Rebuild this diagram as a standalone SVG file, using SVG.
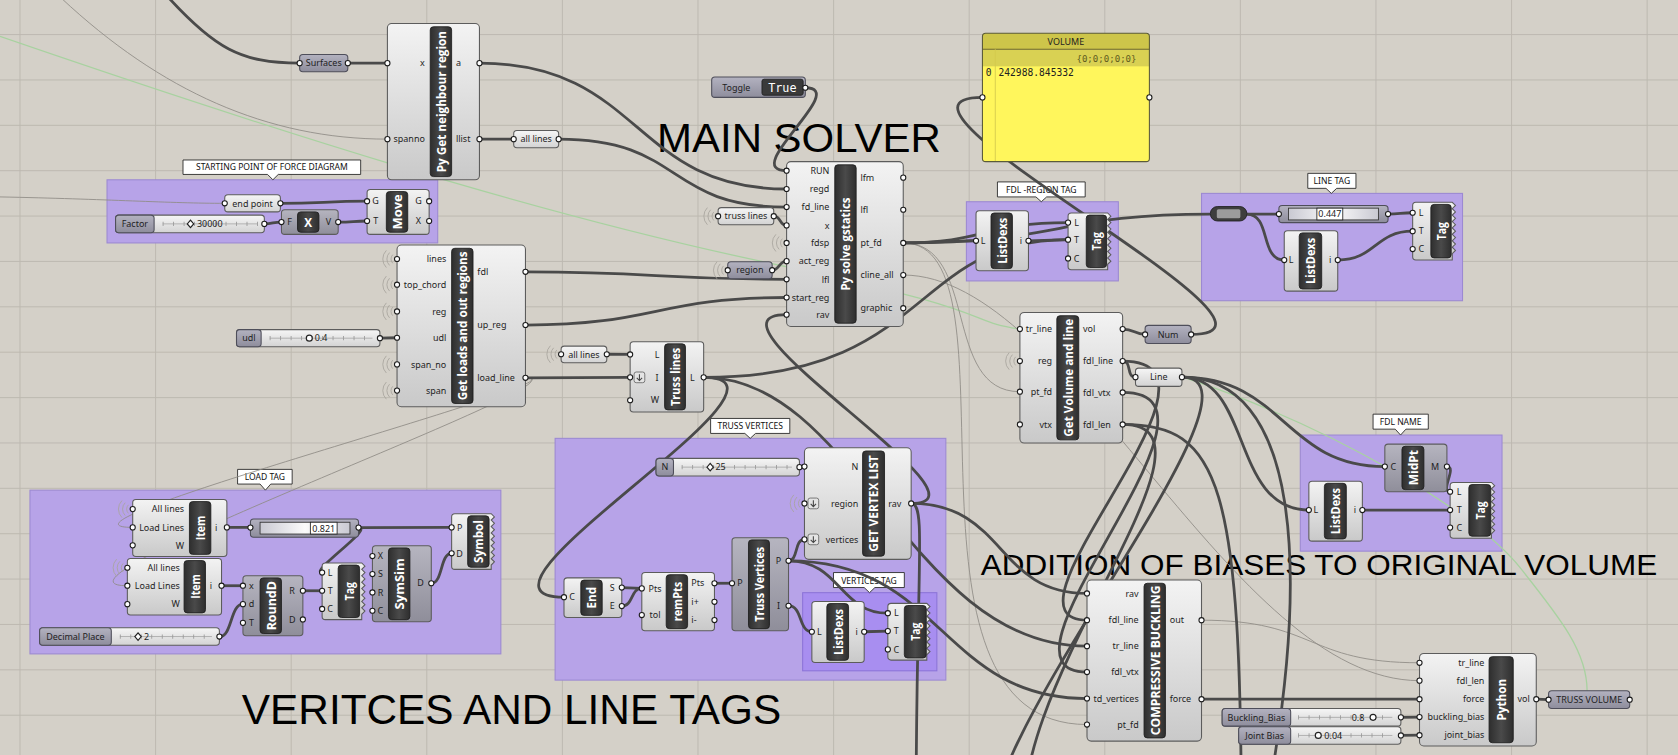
<svg xmlns="http://www.w3.org/2000/svg" width="1678" height="755" viewBox="0 0 1678 755">
<defs>
<linearGradient id="gc" x1="0" y1="0" x2="0" y2="1"><stop offset="0" stop-color="#f3f3f3"/><stop offset="1" stop-color="#c9c9c9"/></linearGradient>
<linearGradient id="gd" x1="0" y1="0" x2="0" y2="1"><stop offset="0" stop-color="#b6b5c0"/><stop offset="1" stop-color="#8f8e9a"/></linearGradient>
<linearGradient id="gp" x1="0" y1="0" x2="0" y2="1"><stop offset="0" stop-color="#b3b2c0"/><stop offset="1" stop-color="#8e8d9c"/></linearGradient>
<linearGradient id="gl" x1="0" y1="0" x2="0" y2="1"><stop offset="0" stop-color="#f6f6f6"/><stop offset="1" stop-color="#d3d3d3"/></linearGradient>
<linearGradient id="gb" x1="0" y1="0" x2="1" y2="0"><stop offset="0" stop-color="#2e2e2e"/><stop offset="0.5" stop-color="#4a4a4a"/><stop offset="1" stop-color="#2e2e2e"/></linearGradient>
<linearGradient id="gt" x1="0" y1="0" x2="1" y2="0"><stop offset="0" stop-color="#c9c9d2"/><stop offset="0.5" stop-color="#fbfbfb"/><stop offset="1" stop-color="#c9c9d2"/></linearGradient>
<g id="wl"><path class="wl" d="M-4 -4a5.7 5.7 0 0 0 0 8M-7 -6a8.5 8.5 0 0 0 0 12M-10 -8a11.3 11.3 0 0 0 0 16"/></g>
<g id="fl"><rect x="-5" y="-5" width="10" height="10" rx="2" fill="#e4e4e4" stroke="#666" stroke-width="0.8"/><path d="M0 -3V3M-2.5 0.5L0 3 2.5 0.5" fill="none" stroke="#444" stroke-width="1"/></g>
</defs>
<style>
.gr{stroke:#bcb8b0;stroke-width:0.9;fill:none}
.grp{fill:#b7a3e8;stroke:#9c89d2;stroke-width:1}
.grp2{fill:#a88ef0;stroke:#8c74d8;stroke-width:1}
.co{fill:#fff;stroke:#222;stroke-width:0.8}
.cot{font-family:"Noto Sans","DejaVu Sans",sans-serif;font-size:8px;fill:#111;text-anchor:middle}
.w{fill:none;stroke:#4a4a4a;stroke-width:2.6}
.t{fill:none;stroke:#8f8b85;stroke-width:0.8}
.g{fill:none;stroke:#a8d2a0;stroke-width:1.2}
.cb{fill:url(#gc);stroke:#5c5c5c;stroke-width:1}
.cd{fill:url(#gd);stroke:#5c5c5c;stroke-width:1}
.pd{fill:url(#gp);stroke:#4e4e5a;stroke-width:1}
.pl{fill:url(#gl);stroke:#5c5c5c;stroke-width:1}
.bar{fill:url(#gb);stroke:#1e1e1e;stroke-width:0.8}
.pt{fill:#fff;stroke:#1a1a1a;stroke-width:1}
.lb{font-family:"Noto Sans","DejaVu Sans",sans-serif;font-size:8.4px;fill:#1e1e1e}
.lr{text-anchor:end}
.lc{text-anchor:middle}
.vt{font-family:"Open Sans","Noto Sans",sans-serif;font-weight:bold;font-size:11px;fill:#fff;text-anchor:middle;dominant-baseline:central}
.hd{font-family:"Liberation Sans",Arial,sans-serif;fill:#000}
.wl{fill:none;stroke:#a9a59e;stroke-width:0.8}
.trk{stroke:#9a9a9a;stroke-width:4;stroke-dasharray:0.8 9}
.trl{stroke:#a0a0a0;stroke-width:0.7}
.mk{fill:#fff;stroke:#222;stroke-width:1.1}
.mono{font-family:"DejaVu Sans Mono","Liberation Mono",monospace}
.vb{fill:#fff;stroke:#222;stroke-width:0.8}
</style>
<rect width="1678" height="755" fill="#d4d0c8"/>
<g transform="scale(1.0702)">
<path class="gr" d="M18.7 0V706M145.4 0V706M272.1 0V706M398.8 0V706M525.5 0V706M652.2 0V706M778.9 0V706M905.6 0V706M1032.3 0V706M1159 0V706M1285.7 0V706M1412.4 0V706M1539.1 0V706M0 32.3H1568M0 74.7H1568M0 117.1H1568M0 159.5H1568M0 201.9H1568M0 244.3H1568M0 286.7H1568M0 329.1H1568M0 371.5H1568M0 413.9H1568M0 456.3H1568M0 498.7H1568M0 541.1H1568M0 583.5H1568M0 625.9H1568M0 668.3H1568M0 710.7H1568"/>

<g id="group-starting-point">
<rect class="grp" x="100" y="168" width="309" height="59"/>
<path class="co" d="M171 149.5H337V163H260L255 168 250 163H171Z"/>
<text class="cot" x="254" y="159.3">STARTING POINT OF FORCE DIAGRAM</text>
</g>
<g id="group-fdl-region-tag">
<rect class="grp" x="903" y="188.5" width="142" height="74"/>
<path class="co" d="M932 170H1014V184H978L973 188.5 968 184H932Z"/>
<text class="cot" x="973" y="180.3">FDL -REGION TAG</text>
</g>
<g id="group-line-tag">
<rect class="grp" x="1122.7" y="180.7" width="243.9" height="100.3"/>
<path class="co" d="M1222 162H1267V176H1249L1244 180.7 1239 176H1222Z"/>
<text class="cot" x="1244.5" y="172.3">LINE TAG</text>
</g>
<g id="group-fdl-name">
<rect class="grp" x="1215" y="406.5" width="188.5" height="108.5"/>
<path class="co" d="M1283 387H1334.6V401H1313.7L1308.7 406.5 1303.7 401H1283Z"/>
<text class="cot" x="1308.8" y="397.3">FDL NAME</text>
</g>
<g id="group-load-tag">
<rect class="grp" x="28" y="458" width="440" height="153"/>
<path class="co" d="M222 438.6H273V452.3H253L248 458 243 452.3H222Z"/>
<text class="cot" x="247.5" y="448.6">LOAD TAG</text>
</g>
<g id="group-truss-vertices">
<rect class="grp" x="518.7" y="409.6" width="365.1" height="225.9"/>
<path class="co" d="M664 391H738V405H706L701 409.6 696 405H664Z"/>
<text class="cot" x="701" y="401.3">TRUSS VERTICES</text>
</g>
<g id="group-vertices-tag">
<rect class="grp2" x="750" y="553.8" width="125.4" height="73"/>
<path class="co" d="M778.8 535H845V549H817.5L812.5 553.8 807.5 549H778.8Z"/>
<text class="cot" x="812" y="545.3">VERTICES TAG</text>
</g>

<text class="hd" x="614" y="141.7" font-size="38" textLength="265" lengthAdjust="spacingAndGlyphs">MAIN SOLVER</text>
<text class="hd" x="226" y="676.5" font-size="39" textLength="504" lengthAdjust="spacingAndGlyphs">VERITCES AND LINE TAGS</text>
<text class="hd" x="916.5" y="537.4" font-size="28" textLength="632" lengthAdjust="spacingAndGlyphs">ADDITION OF BIASES TO ORIGINAL VOLUME</text>

<g id="connectors">
<path class="g" d="M0 34C250 120 500 200 720 246S900 300 953 307.5"/>
<path class="g" d="M1104 352C1250 400 1380 480 1420 530C1460 580 1483 610 1483 645.5"/>
<path class="t" d="M57 -2C150 85 250 130 362 130"/>
<path class="t" d="M0 184C100 186 160 190 210 190"/>
<path class="t" d="M844 227C915 227 880 366 953 366"/>
<path class="t" d="M844 227C960 227 820 677 1015.7 677"/>
<path class="t" d="M1122.7 579.5C1230 579.5 1220 619.3 1326.4 619.3"/>
<path class="t" d="M844 257C1000 257 1150 636 1326.4 636"/>
<path class="t" d="M491 353C560 353 20 492.8 124 492.8"/>
<path class="t" d="M491 353C560 353 15 547.3 119 547.3"/>
<path class="w" d="M155 -5C200 45 225 59 280 59"/>
<path class="w" d="M325 59L362 59"/>
<path class="w" d="M448 59C600 59 590 176.6 735 176.6"/>
<path class="w" d="M448 130L480 130"/>
<path class="w" d="M522 130C640 130 620 193.5 735 193.5"/>
<path class="w" d="M752.5 82C795 82 690 159.5 735 159.5"/>
<path class="w" d="M723 202C730 202 728 210.6 735 210.6"/>
<path class="w" d="M721.5 252.5C728 252.5 728 244 735 244"/>
<path class="w" d="M491 254C613 254 613 261 735 261"/>
<path class="w" d="M491 303.7C613 303.7 613 278 735 278"/>
<path class="w" d="M851.4 470.4C940 470.4 640 294 735 294"/>
<path class="w" d="M491 353L588.8 352.6"/>
<path class="w" d="M567 331L588.8 331.2"/>
<path class="w" d="M657.5 352.6C870 352.6 850 224 998 224"/>
<path class="w" d="M657.5 352.6C770 352.6 410 558 527 558"/>
<path class="w" d="M657.5 352.6C800 352.6 850 603.8 1015.7 603.8"/>
<path class="w" d="M844 227C880 227 876 225 912 225"/>
<path class="w" d="M844 227C920 227 920 208 998 208"/>
<path class="w" d="M961 225L998 224"/>
<path class="w" d="M844 227C990 227 990 200 1131 200"/>
<path class="w" d="M1049 337.4C1058 337.4 1052 352.4 1061 352.4"/>
<path class="w" d="M1049 307.5C1060 307.5 1060 312.5 1070 312.5"/>
<path class="w" d="M1113 312.5C1240 312.5 790 91 918 91"/>
<path class="w" d="M1165 200L1195 200"/>
<path class="w" d="M1297 200C1308 200 1309 198.8 1320 198.8"/>
<path class="w" d="M1165 200C1188 200 1177 243 1200 243"/>
<path class="w" d="M1250 243C1285 243 1285 216 1320 216"/>
<path class="w" d="M1104.4 352.4C1200 352.4 1200 436 1294 436"/>
<path class="w" d="M1104.4 352.4C1170 352.4 1150 476.6 1223 476.6"/>
<path class="w" d="M1352 436C1362 436 1345 459.5 1355 459.5"/>
<path class="w" d="M1273 476.6L1355 476.6"/>
<path class="w" d="M1049 337.4C1170 337.4 920 579.5 1015.7 579.5"/>
<path class="w" d="M1049 366.7C1170 366.7 910 628 1015.7 628"/>
<path class="w" d="M1104.4 352.4C1200 352.4 900 700 930 780"/>
<path class="w" d="M1049 396.6C1160 396.6 930 650 960 780"/>
<path class="w" d="M1049 396.6C1140 396.6 1160 450 1160 780"/>
<path class="w" d="M1104.4 352.4C1210 352.4 1230 520 1178 780"/>
<path class="w" d="M1122.7 653.3L1326.4 653.3"/>
<path class="w" d="M1309 670.3L1326.4 670"/>
<path class="w" d="M1309 687.2L1326.4 687"/>
<path class="w" d="M1435.5 653.3L1447 653.8"/>
<path class="w" d="M736.8 524C880 524 880 652.7 1015.7 652.7"/>
<path class="w" d="M736.8 524C746 524 742 504 751.7 504"/>
<path class="w" d="M736.8 524C785 524 785 573 829.6 573"/>
<path class="w" d="M736.8 566C750 566 746 590.3 758.6 590.3"/>
<path class="w" d="M807.5 590.3L829.6 589.7"/>
<path class="w" d="M581 549L599.7 549.8"/>
<path class="w" d="M581 566.3C592 566.3 589 549.8 599.7 549.8"/>
<path class="w" d="M667.6 545L684 545"/>
<path class="w" d="M747 436.5L751.7 436"/>
<path class="w" d="M851.4 470.4C866 470.4 856 530 856 760"/>
<path class="w" d="M851.4 470.4C940 470.4 930 554.5 1015.7 554.5"/>
<path class="w" d="M212 492.8L234 492.8"/>
<path class="w" d="M335 493L422 492.8"/>
<path class="w" d="M335 493C350 493 288 535 301 535"/>
<path class="w" d="M207 547.3L227 547.3"/>
<path class="w" d="M205 595C217 595 215 564.5 227 564.5"/>
<path class="w" d="M283 552L301 552"/>
<path class="w" d="M403 545C414 545 411 517 422 517"/>
<path class="w" d="M262 190C300 190 305 188 343 188"/>
<path class="w" d="M247 209.2C255 209.2 255 207.5 263 207.5"/>
<path class="w" d="M316 207.5C330 207.5 330 206.5 343 206.5"/>
<path class="w" d="M355 316L371 315.6"/>
</g>

<g id="surfaces">
<rect class="pd" x="280" y="51" width="45" height="16" rx="3"/>
<text class="lb lc" x="302.5" y="62">Surfaces</text>
<circle class="pt" cx="280" cy="59" r="2.4"/><circle class="pt" cx="325" cy="59" r="2.4"/>
</g>
<g id="py-get-neighbour-region">
<rect class="cb" x="362" y="22" width="86" height="146" rx="4"/>
<rect class="bar" x="402" y="25" width="20" height="140" rx="3"/>
<text class="vt" transform="translate(412 95) rotate(-90)" textLength="132" lengthAdjust="spacingAndGlyphs">Py Get neighbour region</text>
<text class="lb lr" x="397" y="62">x</text><text class="lb lr" x="397" y="133">spanno</text>
<text class="lb" x="426" y="62">a</text><text class="lb" x="426" y="133">llist</text>
<circle class="pt" cx="362" cy="59" r="2.4"/><circle class="pt" cx="362" cy="130" r="2.4"/>
<circle class="pt" cx="448" cy="59" r="2.4"/><circle class="pt" cx="448" cy="130" r="2.4"/>
</g>
<g id="all-lines-top">
<rect class="pl" x="480" y="122" width="42" height="16" rx="3"/>
<text class="lb lc" x="501" y="133">all lines</text>
<circle class="pt" cx="480" cy="130" r="2.4"/><circle class="pt" cx="522" cy="130" r="2.4"/>
</g>
<g id="end-point">
<rect class="pl" x="210" y="182" width="52" height="16" rx="3"/>
<text class="lb lc" x="236" y="193">end point</text>
<circle class="pt" cx="210" cy="190" r="2.4"/><circle class="pt" cx="262" cy="190" r="2.4"/>
</g>
<g id="factor-slider">
<rect class="pl" x="108" y="201" width="139" height="16.5" rx="3"/>
<rect class="pd" x="108" y="201" width="36" height="16.5" rx="3"/>
<text class="lb lc" x="126" y="212.2">Factor</text>
<line class="trl" x1="152" y1="209.2" x2="241" y2="209.2"/><line class="trk" x1="152" y1="209.2" x2="241" y2="209.2"/>
<path class="mk" d="M178 205.7l3 3.5-3 3.5-3-3.5z"/>
<text class="lb" x="184" y="212.2">30000</text>
<circle class="pt" cx="247" cy="209.2" r="2.4"/>
</g>
<g id="multiply">
<rect class="cd" x="263" y="196" width="53" height="23" rx="3"/>
<rect class="bar" x="278" y="198" width="20" height="19" rx="3"/>
<text class="vt" x="288" y="207.5" font-size="12">X</text>
<text class="lb lc" x="270.5" y="210.5">F</text><text class="lb lc" x="307" y="210.5">V</text>
<circle class="pt" cx="263" cy="207.5" r="2.4"/><circle class="pt" cx="316" cy="207.5" r="2.4"/>
</g>
<g id="move">
<rect class="cb" x="343" y="177" width="58" height="42" rx="3"/>
<rect class="bar" x="361" y="179" width="20" height="38" rx="3"/>
<text class="vt" transform="translate(371 198) rotate(-90)" textLength="33" lengthAdjust="spacingAndGlyphs">Move</text>
<text class="lb lc" x="351" y="191">G</text><text class="lb lc" x="351" y="209.5">T</text>
<text class="lb lc" x="391" y="191">G</text><text class="lb lc" x="391" y="209.5">X</text>
<circle class="pt" cx="343" cy="188" r="2.4"/><circle class="pt" cx="343" cy="206.5" r="2.4"/>
<circle class="pt" cx="401" cy="188" r="2.4"/><circle class="pt" cx="401" cy="206.5" r="2.4"/>
</g>
<g id="get-loads-and-out-regions">
<rect class="cb" x="371" y="229" width="120" height="151" rx="4"/>
<rect class="bar" x="422" y="232" width="20" height="145" rx="3"/>
<text class="vt" transform="translate(432 304.5) rotate(-90)" textLength="139" lengthAdjust="spacingAndGlyphs">Get loads and out regions</text>
<text class="lb lr" x="417" y="245">lines</text><text class="lb lr" x="417" y="269">top_chord</text><text class="lb lr" x="417" y="294">reg</text><text class="lb lr" x="417" y="318.6">udl</text><text class="lb lr" x="417" y="343.5">span_no</text><text class="lb lr" x="417" y="368">span</text>
<text class="lb" x="446" y="257">fdl</text><text class="lb" x="446" y="306.7">up_reg</text><text class="lb" x="446" y="356">load_line</text>
<use href="#wl" x="371" y="242"/><use href="#wl" x="371" y="266"/><use href="#wl" x="371" y="291"/><use href="#wl" x="371" y="340.5"/><use href="#wl" x="371" y="365"/>
<circle class="pt" cx="371" cy="242" r="2.4"/><circle class="pt" cx="371" cy="266" r="2.4"/><circle class="pt" cx="371" cy="291" r="2.4"/><circle class="pt" cx="371" cy="315.6" r="2.4"/><circle class="pt" cx="371" cy="340.5" r="2.4"/><circle class="pt" cx="371" cy="365" r="2.4"/>
<circle class="pt" cx="491" cy="254" r="2.4"/><circle class="pt" cx="491" cy="303.7" r="2.4"/><circle class="pt" cx="491" cy="353" r="2.4"/>
</g>
<g id="udl-slider">
<rect class="pl" x="221" y="308" width="134" height="16" rx="3"/>
<rect class="pd" x="221" y="308" width="23" height="16" rx="3"/>
<text class="lb lc" x="232.5" y="319">udl</text>
<line class="trl" x1="252" y1="316" x2="348" y2="316"/><line class="trk" x1="252" y1="316" x2="348" y2="316"/>
<circle class="mk" cx="289" cy="316" r="2.8"/>
<text class="lb" x="294" y="319">0.4</text>
<circle class="pt" cx="355" cy="316" r="2.4"/>
</g>
<g id="toggle">
<rect class="pd" x="665" y="72" width="87.5" height="19" rx="3"/>
<rect x="712" y="74" width="38.5" height="15" rx="2" fill="#3a3a3a" stroke="#1e1e1e" stroke-width="0.8"/>
<text class="lb lc" x="688" y="85">Toggle</text>
<text class="mono" x="731" y="85.8" font-size="11" fill="#fff" text-anchor="middle">True</text>
<circle class="pt" cx="752.5" cy="82" r="2.4"/>
</g>
<g id="truss-lines-param">
<rect class="pl" x="671" y="194" width="52" height="16" rx="3"/>
<text class="lb lc" x="697" y="205">truss lines</text>
<use href="#wl" x="671" y="202"/>
<circle class="pt" cx="671" cy="202" r="2.4"/><circle class="pt" cx="723" cy="202" r="2.4"/>
</g>
<g id="region-param">
<rect class="pd" x="680" y="244.5" width="41.5" height="16" rx="3"/>
<text class="lb lc" x="700.7" y="255.5">region</text>
<use href="#wl" x="680" y="252.5"/>
<circle class="pt" cx="680" cy="252.5" r="2.4"/><circle class="pt" cx="721.5" cy="252.5" r="2.4"/>
</g>
<g id="py-solve-gstatics">
<rect class="cb" x="735" y="151" width="109" height="154" rx="4"/>
<rect class="bar" x="780" y="154" width="20" height="148" rx="3"/>
<text class="vt" transform="translate(790 228) rotate(-90)" textLength="87" lengthAdjust="spacingAndGlyphs">Py solve gstatics</text>
<text class="lb lr" x="775" y="162.5">RUN</text><text class="lb lr" x="775" y="179.6">regd</text><text class="lb lr" x="775" y="196.5">fd_line</text><text class="lb lr" x="775" y="213.6">x</text><text class="lb lr" x="775" y="230">fdsp</text><text class="lb lr" x="775" y="247">act_reg</text><text class="lb lr" x="775" y="264">lfl</text><text class="lb lr" x="775" y="281">start_reg</text><text class="lb lr" x="775" y="297">rav</text>
<text class="lb" x="804" y="169">lfm</text><text class="lb" x="804" y="199">lfl</text><text class="lb" x="804" y="230">pt_fd</text><text class="lb" x="804" y="260">cline_all</text><text class="lb" x="804" y="291">graphic</text>
<use href="#wl" x="735" y="227"/>
<circle class="pt" cx="735" cy="159.5" r="2.4"/><circle class="pt" cx="735" cy="176.6" r="2.4"/><circle class="pt" cx="735" cy="193.5" r="2.4"/><circle class="pt" cx="735" cy="210.6" r="2.4"/><circle class="pt" cx="735" cy="227" r="2.4"/><circle class="pt" cx="735" cy="244" r="2.4"/><circle class="pt" cx="735" cy="261" r="2.4"/><circle class="pt" cx="735" cy="278" r="2.4"/><circle class="pt" cx="735" cy="294" r="2.4"/>
<circle class="pt" cx="844" cy="166" r="2.4"/><circle class="pt" cx="844" cy="196" r="2.4"/><circle class="pt" cx="844" cy="227" r="2.4"/><circle class="pt" cx="844" cy="257" r="2.4"/><circle class="pt" cx="844" cy="288" r="2.4"/>
</g>
<g id="volume-panel">
<rect x="918" y="31" width="156" height="120" rx="3" fill="#fff65c"/>
<path d="M918 46V34a3 3 0 0 1 3-3h150a3 3 0 0 1 3 3v12z" fill="#cdc54a"/>
<rect x="918" y="46" width="156" height="16" fill="#d9d153"/>
<line x1="918" y1="46" x2="1074" y2="46" stroke="#6b6630" stroke-width="1"/>
<line x1="930" y1="46" x2="930" y2="151" stroke="#d2ca4c" stroke-width="0.8"/>
<rect x="918" y="31" width="156" height="120" rx="3" fill="none" stroke="#5a5a3a" stroke-width="1"/>
<text class="lb lc" x="996" y="41.8" font-size="8.2">VOLUME</text>
<text class="mono" x="1062" y="57.5" font-size="8.5" text-anchor="end" fill="#5f5c1e">{0;0;0;0;0}</text>
<text class="mono" x="921" y="70.8" font-size="9" fill="#222">0</text>
<text class="mono" x="933" y="70.8" font-size="9" fill="#222">242988.845332</text>
<circle class="pt" cx="918" cy="91" r="2.4"/><circle class="pt" cx="1074" cy="91" r="2.4"/>
</g>
<g id="listdexs-fdl-region">
<rect class="cb" x="912" y="197" width="49" height="56" rx="3"/>
<rect class="bar" x="926" y="199" width="20" height="52" rx="3"/>
<text class="vt" transform="translate(936 225) rotate(-90)" textLength="43" lengthAdjust="spacingAndGlyphs">ListDexs</text>
<text class="lb lc" x="918.5" y="228">L</text><text class="lb lc" x="954" y="228">i</text>
<circle class="pt" cx="912" cy="225" r="2.4"/><circle class="pt" cx="961" cy="225" r="2.4"/>
</g>
<g id="tag-fdl-region">
<path class="cb" d="M1001 199H1035l3 3-3 3 3 3-3 3 3 3-3 3 3 3-3 3 3 3-3 3 3 3-3 3 3 3-3 3 3 3-3 3V252H1001a3 3 0 0 1-3-3V202a3 3 0 0 1 3-3Z"/>
<rect class="bar" x="1015" y="201" width="19" height="49" rx="3"/>
<text class="vt" transform="translate(1024.5 225.5) rotate(-90)" textLength="17" lengthAdjust="spacingAndGlyphs">Tag</text>
<text class="lb lc" x="1006" y="211">L</text><text class="lb lc" x="1006" y="227">T</text><text class="lb lc" x="1006" y="244.5">C</text>
<circle class="pt" cx="998" cy="208" r="2.4"/><circle class="pt" cx="998" cy="224" r="2.4"/><circle class="pt" cx="998" cy="241.5" r="2.4"/>
</g>
<g id="relay-line-tag">
<rect x="1131" y="193" width="34" height="13.5" rx="6.5" fill="#3e3e3e" stroke="#1e1e1e" stroke-width="0.8"/>
<rect x="1137" y="195.5" width="22" height="8.5" rx="1.5" fill="#9c9c9c"/>
</g>
<g id="value-0447">
<rect class="pd" x="1195" y="192" width="102" height="16" rx="3"/>
<rect x="1204" y="194.5" width="84" height="11" fill="url(#gt)" stroke="#333" stroke-width="0.8"/>
<rect class="vb" x="1230.5" y="194.5" width="24.2" height="11"/>
<text class="lb lc" x="1242.6" y="203.2" font-size="8.2">0.447</text>
<circle class="pt" cx="1195" cy="200" r="2.4"/><circle class="pt" cx="1297" cy="200" r="2.4"/>
</g>
<g id="listdexs-line-tag">
<rect class="cb" x="1200" y="215.6" width="50" height="56.4" rx="3"/>
<rect class="bar" x="1214" y="217.6" width="21" height="52.4" rx="3"/>
<text class="vt" transform="translate(1224.5 243.8) rotate(-90)" textLength="43" lengthAdjust="spacingAndGlyphs">ListDexs</text>
<text class="lb lc" x="1206.5" y="246">L</text><text class="lb lc" x="1243" y="246">i</text>
<circle class="pt" cx="1200" cy="243" r="2.4"/><circle class="pt" cx="1250" cy="243" r="2.4"/>
</g>
<g id="tag-line-tag">
<path class="cb" d="M1323 189H1357l3 3-3 3 3 3-3 3 3 3-3 3 3 3-3 3 3 3-3 3 3 3-3 3 3 3-3 3 3 3-3 3V243H1323a3 3 0 0 1-3-3V192a3 3 0 0 1 3-3Z"/>
<rect class="bar" x="1337" y="191" width="19" height="50" rx="3"/>
<text class="vt" transform="translate(1346.5 216) rotate(-90)" textLength="17" lengthAdjust="spacingAndGlyphs">Tag</text>
<text class="lb lc" x="1328" y="201.8">L</text><text class="lb lc" x="1328" y="219">T</text><text class="lb lc" x="1328" y="235.7">C</text>
<circle class="pt" cx="1320" cy="198.8" r="2.4"/><circle class="pt" cx="1320" cy="216" r="2.4"/><circle class="pt" cx="1320" cy="232.7" r="2.4"/>
</g>
<g id="get-volume-and-line">
<rect class="cb" x="953" y="292" width="96" height="122" rx="4"/>
<rect class="bar" x="987.5" y="295" width="20.5" height="116" rx="3"/>
<text class="vt" transform="translate(997.7 353) rotate(-90)" textLength="110" lengthAdjust="spacingAndGlyphs">Get Volume and line</text>
<text class="lb lr" x="983" y="310.5">tr_line</text><text class="lb lr" x="983" y="340.4">reg</text><text class="lb lr" x="983" y="369">pt_fd</text><text class="lb lr" x="983" y="399.6">vtx</text>
<text class="lb" x="1012" y="310.5">vol</text><text class="lb" x="1012" y="340.4">fdl_line</text><text class="lb" x="1012" y="369.7">fdl_vtx</text><text class="lb" x="1012" y="399.6">fdl_len</text>
<use href="#wl" x="953" y="337.4"/>
<circle class="pt" cx="953" cy="307.5" r="2.4"/><circle class="pt" cx="953" cy="337.4" r="2.4"/><circle class="pt" cx="953" cy="366" r="2.4"/><circle class="pt" cx="953" cy="396.6" r="2.4"/>
<circle class="pt" cx="1049" cy="307.5" r="2.4"/><circle class="pt" cx="1049" cy="337.4" r="2.4"/><circle class="pt" cx="1049" cy="366.7" r="2.4"/><circle class="pt" cx="1049" cy="396.6" r="2.4"/>
</g>
<g id="num-param">
<rect class="pd" x="1070" y="304" width="43" height="17" rx="3"/>
<text class="lb lc" x="1091.5" y="315.5">Num</text>
<circle class="pt" cx="1070" cy="312.5" r="2.4"/><circle class="pt" cx="1113" cy="312.5" r="2.4"/>
</g>
<g id="line-param">
<rect class="pl" x="1061" y="344" width="43.4" height="17" rx="3"/>
<text class="lb lc" x="1082.7" y="355.4">Line</text>
<circle class="pt" cx="1061" cy="352.4" r="2.4"/><circle class="pt" cx="1104.4" cy="352.4" r="2.4"/>
</g>
<g id="midpt">
<rect class="cd" x="1294" y="415" width="58" height="44.5" rx="3"/>
<rect class="bar" x="1310" y="417" width="20.5" height="40.5" rx="3"/>
<text class="vt" transform="translate(1320.2 437) rotate(-90)" textLength="33" lengthAdjust="spacingAndGlyphs">MidPt</text>
<text class="lb lc" x="1302" y="439">C</text><text class="lb lc" x="1341" y="439">M</text>
<circle class="pt" cx="1294" cy="436" r="2.4"/><circle class="pt" cx="1352" cy="436" r="2.4"/>
</g>
<g id="listdexs-fdl-name">
<rect class="cb" x="1223" y="449.6" width="50" height="56" rx="3"/>
<rect class="bar" x="1237.5" y="451.6" width="20.5" height="52" rx="3"/>
<text class="vt" transform="translate(1247.7 477.6) rotate(-90)" textLength="43" lengthAdjust="spacingAndGlyphs">ListDexs</text>
<text class="lb lc" x="1229.5" y="479.6">L</text><text class="lb lc" x="1266" y="479.6">i</text>
<circle class="pt" cx="1223" cy="476.6" r="2.4"/><circle class="pt" cx="1273" cy="476.6" r="2.4"/>
</g>
<g id="tag-fdl-name">
<path class="cb" d="M1358 450.8H1393.6l3 3-3 3 3 3-3 3 3 3-3 3 3 3-3 3 3 3-3 3 3 3-3 3 3 3-3 3 3 3-3 3V503H1358a3 3 0 0 1-3-3V453.8a3 3 0 0 1 3-3Z"/>
<rect class="bar" x="1372.5" y="452.8" width="20.5" height="48.2" rx="3"/>
<text class="vt" transform="translate(1382.7 477) rotate(-90)" textLength="17" lengthAdjust="spacingAndGlyphs">Tag</text>
<text class="lb lc" x="1363.5" y="462.5">L</text><text class="lb lc" x="1363.5" y="479.6">T</text><text class="lb lc" x="1363.5" y="496">C</text>
<circle class="pt" cx="1355" cy="459.5" r="2.4"/><circle class="pt" cx="1355" cy="476.6" r="2.4"/><circle class="pt" cx="1355" cy="493" r="2.4"/>
</g>
<g id="item-1">
<rect class="cb" x="124" y="466.7" width="88" height="53.3" rx="3"/>
<rect class="bar" x="177" y="468.7" width="20" height="49.3" rx="3"/>
<text class="vt" transform="translate(187 493.3) rotate(-90)" textLength="23" lengthAdjust="spacingAndGlyphs">Item</text>
<text class="lb lr" x="172" y="478.7">All lines</text><text class="lb lr" x="172" y="495.8">Load Lines</text><text class="lb lr" x="172" y="512.6">W</text>
<text class="lb lc" x="202" y="495.8">i</text>
<use href="#wl" x="124" y="475.7"/>
<circle class="pt" cx="124" cy="475.7" r="2.4"/><circle class="pt" cx="124" cy="492.8" r="2.4"/><circle class="pt" cx="124" cy="509.6" r="2.4"/><circle class="pt" cx="212" cy="492.8" r="2.4"/>
</g>
<g id="item-2">
<rect class="cb" x="119" y="521.8" width="88" height="52.9" rx="3"/>
<rect class="bar" x="172" y="523.8" width="20" height="48.9" rx="3"/>
<text class="vt" transform="translate(182 548) rotate(-90)" textLength="23" lengthAdjust="spacingAndGlyphs">Item</text>
<text class="lb lr" x="168" y="533.5">All lines</text><text class="lb lr" x="168" y="550.3">Load Lines</text><text class="lb lr" x="168" y="567.5">W</text>
<text class="lb lc" x="197" y="550.3">i</text>
<use href="#wl" x="119" y="530.5"/>
<circle class="pt" cx="119" cy="530.5" r="2.4"/><circle class="pt" cx="119" cy="547.3" r="2.4"/><circle class="pt" cx="119" cy="564.5" r="2.4"/><circle class="pt" cx="207" cy="547.3" r="2.4"/>
</g>
<g id="value-0821">
<rect class="pd" x="234" y="485" width="101" height="17" rx="3"/>
<rect x="243" y="488" width="84" height="11" fill="url(#gt)" stroke="#333" stroke-width="0.8"/>
<rect class="vb" x="290" y="488" width="25" height="11"/>
<text class="lb lc" x="302.5" y="496.7" font-size="8.2">0.821</text>
<circle class="pt" cx="234" cy="493" r="2.4"/><circle class="pt" cx="335" cy="493" r="2.4"/>
</g>
<g id="roundd">
<rect class="cd" x="227" y="538" width="56" height="56" rx="3"/>
<rect class="bar" x="243" y="540" width="20" height="52" rx="3"/>
<text class="vt" transform="translate(253 566) rotate(-90)" textLength="46" lengthAdjust="spacingAndGlyphs">RoundD</text>
<text class="lb lc" x="235" y="550.3">x</text><text class="lb lc" x="235" y="567.5">d</text><text class="lb lc" x="235" y="585">T</text>
<text class="lb lc" x="273" y="555">R</text><text class="lb lc" x="273" y="581.8">D</text>
<circle class="pt" cx="227" cy="547.3" r="2.4"/><circle class="pt" cx="227" cy="564.5" r="2.4"/><circle class="pt" cx="227" cy="582" r="2.4"/>
<circle class="pt" cx="283" cy="552" r="2.4"/><circle class="pt" cx="283" cy="578.8" r="2.4"/>
</g>
<g id="decimal-place-slider">
<rect class="pl" x="37" y="586.6" width="168" height="16.4" rx="3"/>
<rect class="pd" x="37" y="586.6" width="67" height="16.4" rx="3"/>
<text class="lb lc" x="70.5" y="597.8">Decimal Place</text>
<line class="trl" x1="112" y1="594.8" x2="198" y2="594.8"/><line class="trk" x1="112" y1="594.8" x2="198" y2="594.8"/>
<path class="mk" d="M129 591.3l3 3.5-3 3.5-3-3.5z"/>
<text class="lb" x="134.5" y="597.8">2</text>
<circle class="pt" cx="205" cy="594.8" r="2.4"/>
</g>
<g id="tag-load">
<path class="cb" d="M304 526H338l3 3-3 3 3 3-3 3 3 3-3 3 3 3-3 3 3 3-3 3 3 3-3 3 3 3-3 3 3 3-3 3V579H304a3 3 0 0 1-3-3V529a3 3 0 0 1 3-3Z"/>
<rect class="bar" x="316" y="528" width="20" height="49" rx="3"/>
<text class="vt" transform="translate(326 552.5) rotate(-90)" textLength="17" lengthAdjust="spacingAndGlyphs">Tag</text>
<text class="lb lc" x="308.5" y="538">L</text><text class="lb lc" x="308.5" y="555">T</text><text class="lb lc" x="308.5" y="572">C</text>
<circle class="pt" cx="301" cy="535" r="2.4"/><circle class="pt" cx="301" cy="552" r="2.4"/><circle class="pt" cx="301" cy="569" r="2.4"/>
</g>
<g id="symsim">
<rect class="cd" x="348" y="510" width="55" height="71" rx="3"/>
<rect class="bar" x="363" y="512" width="20" height="67" rx="3"/>
<text class="vt" transform="translate(373 545.5) rotate(-90)" textLength="48" lengthAdjust="spacingAndGlyphs">SymSim</text>
<text class="lb lc" x="355.5" y="522.6">X</text><text class="lb lc" x="355.5" y="539.4">S</text><text class="lb lc" x="355.5" y="556.6">R</text><text class="lb lc" x="355.5" y="573.7">C</text>
<text class="lb lc" x="393" y="548">D</text>
<circle class="pt" cx="348" cy="519.6" r="2.4"/><circle class="pt" cx="348" cy="536.4" r="2.4"/><circle class="pt" cx="348" cy="553.6" r="2.4"/><circle class="pt" cx="348" cy="570.7" r="2.4"/><circle class="pt" cx="403" cy="545" r="2.4"/>
</g>
<g id="symbol">
<path class="cb" d="M425 480H459l3 3-3 3 3 3-3 3 3 3-3 3 3 3-3 3 3 3-3 3 3 3-3 3 3 3-3 3 3 3-3 3V532H425a3 3 0 0 1-3-3V483a3 3 0 0 1 3-3Z"/>
<rect class="bar" x="437" y="482" width="20" height="48" rx="3"/>
<text class="vt" transform="translate(447 506) rotate(-90)" textLength="40" lengthAdjust="spacingAndGlyphs">Symbol</text>
<text class="lb lc" x="429.5" y="495.8">P</text><text class="lb lc" x="429.5" y="520">D</text>
<circle class="pt" cx="422" cy="492.8" r="2.4"/><circle class="pt" cx="422" cy="517" r="2.4"/>
</g>
<g id="truss-lines">
<rect class="cb" x="588.8" y="319.3" width="68.7" height="65.7" rx="3"/>
<rect class="bar" x="621" y="321.3" width="19.5" height="61.7" rx="3"/>
<text class="vt" transform="translate(630.7 352.2) rotate(-90)" textLength="54.5" lengthAdjust="spacingAndGlyphs">Truss lines</text>
<text class="lb lc" x="614" y="334.2">L</text><text class="lb lc" x="614" y="355.6">I</text><text class="lb lc" x="612" y="377">W</text>
<text class="lb lc" x="647" y="355.6">L</text>
<use href="#fl" x="597.5" y="352.6"/>
<circle class="pt" cx="588.8" cy="331.2" r="2.4"/><circle class="pt" cx="588.8" cy="352.6" r="2.4"/><circle class="pt" cx="588.8" cy="374" r="2.4"/><circle class="pt" cx="657.5" cy="352.6" r="2.4"/>
</g>
<g id="all-lines-2">
<rect class="pl" x="524.3" y="323.4" width="42.7" height="15.6" rx="3"/>
<text class="lb lc" x="545.6" y="334.2">all lines</text>
<use href="#wl" x="524.3" y="331"/>
<circle class="pt" cx="524.3" cy="331" r="2.4"/><circle class="pt" cx="567" cy="331" r="2.4"/>
</g>
<g id="n-slider">
<rect class="pl" x="613" y="428.3" width="134" height="16.5" rx="3"/>
<rect class="pd" x="613" y="428.3" width="16.3" height="16.5" rx="3"/>
<text class="lb lc" x="621.2" y="439.5">N</text>
<line class="trl" x1="637" y1="436.5" x2="740" y2="436.5"/><line class="trk" x1="637" y1="436.5" x2="740" y2="436.5"/>
<path class="mk" d="M663.6 433l3 3.5-3 3.5-3-3.5z"/>
<text class="lb" x="668.5" y="439.5">25</text>
<circle class="pt" cx="747" cy="436.5" r="2.4"/>
</g>
<g id="get-vertex-list">
<rect class="cb" x="751.7" y="418.4" width="99.7" height="104.3" rx="4"/>
<rect class="bar" x="806" y="421.4" width="20.5" height="98.3" rx="3"/>
<text class="vt" transform="translate(816.2 470.5) rotate(-90)" textLength="90" lengthAdjust="spacingAndGlyphs">GET VERTEX LIST</text>
<text class="lb lr" x="802" y="439">N</text><text class="lb lr" x="802" y="473.4">region</text><text class="lb lr" x="802" y="507">vertices</text>
<text class="lb" x="830" y="473.4">rav</text>
<use href="#wl" x="751.7" y="470.4"/>
<use href="#fl" x="760" y="470.4"/><use href="#fl" x="760" y="504"/>
<circle class="pt" cx="751.7" cy="436" r="2.4"/><circle class="pt" cx="751.7" cy="470.4" r="2.4"/><circle class="pt" cx="751.7" cy="504" r="2.4"/><circle class="pt" cx="851.4" cy="470.4" r="2.4"/>
</g>
<g id="end">
<rect class="cb" x="527" y="540" width="54" height="37" rx="3"/>
<rect class="bar" x="542.7" y="542" width="20" height="33" rx="3"/>
<text class="vt" transform="translate(552.7 558.5) rotate(-90)" textLength="20" lengthAdjust="spacingAndGlyphs">End</text>
<text class="lb lc" x="534.5" y="561">C</text><text class="lb lc" x="572" y="552">S</text><text class="lb lc" x="572" y="569.3">E</text>
<circle class="pt" cx="527" cy="558" r="2.4"/><circle class="pt" cx="581" cy="549" r="2.4"/><circle class="pt" cx="581" cy="566.3" r="2.4"/>
</g>
<g id="rempts">
<rect class="cb" x="599.7" y="535" width="67.9" height="54.4" rx="3"/>
<rect class="bar" x="622.5" y="537" width="20" height="50.4" rx="3"/>
<text class="vt" transform="translate(632.5 562) rotate(-90)" textLength="37" lengthAdjust="spacingAndGlyphs">remPts</text>
<text class="lb lc" x="612" y="552.8">Pts</text><text class="lb lc" x="612" y="577.7">tol</text>
<text class="lb" x="646" y="548">Pts</text><text class="lb" x="646" y="565.3">i+</text><text class="lb" x="646" y="582.4">i-</text>
<circle class="pt" cx="599.7" cy="549.8" r="2.4"/><circle class="pt" cx="599.7" cy="574.7" r="2.4"/>
<circle class="pt" cx="667.6" cy="545" r="2.4"/><circle class="pt" cx="667.6" cy="562.3" r="2.4"/><circle class="pt" cx="667.6" cy="579.4" r="2.4"/>
</g>
<g id="truss-vertices">
<rect class="cd" x="684" y="502.5" width="52.8" height="86.9" rx="3"/>
<rect class="bar" x="699.4" y="504.5" width="19.6" height="82.9" rx="3"/>
<text class="vt" transform="translate(709.2 546) rotate(-90)" textLength="70" lengthAdjust="spacingAndGlyphs">Truss Vertices</text>
<text class="lb lc" x="691.5" y="548">P</text>
<text class="lb lc" x="727.5" y="527">P</text><text class="lb lc" x="727.5" y="569">I</text>
<circle class="pt" cx="684" cy="545" r="2.4"/><circle class="pt" cx="736.8" cy="524" r="2.4"/><circle class="pt" cx="736.8" cy="566" r="2.4"/>
</g>
<g id="listdexs-vertices">
<rect class="cb" x="758.6" y="562" width="48.9" height="57" rx="3"/>
<rect class="bar" x="772.6" y="564" width="20.3" height="53" rx="3"/>
<text class="vt" transform="translate(782.7 590.5) rotate(-90)" textLength="43" lengthAdjust="spacingAndGlyphs">ListDexs</text>
<text class="lb lc" x="765.5" y="593.3">L</text><text class="lb lc" x="800.5" y="593.3">i</text>
<circle class="pt" cx="758.6" cy="590.3" r="2.4"/><circle class="pt" cx="807.5" cy="590.3" r="2.4"/>
</g>
<g id="tag-vertices">
<path class="cb" d="M832.6 563.8H866l3 3-3 3 3 3-3 3 3 3-3 3 3 3-3 3 3 3-3 3 3 3-3 3 3 3-3 3 3 3-3 3V616.8H832.6a3 3 0 0 1-3-3V566.8a3 3 0 0 1 3-3Z"/>
<rect class="bar" x="845" y="565.8" width="20.5" height="49" rx="3"/>
<text class="vt" transform="translate(855.2 590.3) rotate(-90)" textLength="17" lengthAdjust="spacingAndGlyphs">Tag</text>
<text class="lb lc" x="837.5" y="576">L</text><text class="lb lc" x="837.5" y="592.7">T</text><text class="lb lc" x="837.5" y="609.8">C</text>
<circle class="pt" cx="829.6" cy="573" r="2.4"/><circle class="pt" cx="829.6" cy="589.7" r="2.4"/><circle class="pt" cx="829.6" cy="606.8" r="2.4"/>
</g>
<g id="compressive-buckling">
<rect class="cb" x="1015.7" y="542" width="107" height="150.5" rx="4"/>
<rect class="bar" x="1069" y="545" width="20" height="144.5" rx="3"/>
<text class="vt" transform="translate(1079 617) rotate(-90)" textLength="140" lengthAdjust="spacingAndGlyphs">COMPRESSIVE BUCKLING</text>
<text class="lb lr" x="1064" y="557.5">rav</text><text class="lb lr" x="1064" y="582.5">fdl_line</text><text class="lb lr" x="1064" y="606.8">tr_line</text><text class="lb lr" x="1064" y="631">fdl_vtx</text><text class="lb lr" x="1064" y="655.7">td_vertices</text><text class="lb lr" x="1064" y="680">pt_fd</text>
<text class="lb" x="1093" y="582.5">out</text><text class="lb" x="1093" y="656.3">force</text>
<circle class="pt" cx="1015.7" cy="554.5" r="2.4"/><circle class="pt" cx="1015.7" cy="579.5" r="2.4"/><circle class="pt" cx="1015.7" cy="603.8" r="2.4"/><circle class="pt" cx="1015.7" cy="628" r="2.4"/><circle class="pt" cx="1015.7" cy="652.7" r="2.4"/><circle class="pt" cx="1015.7" cy="677" r="2.4"/>
<circle class="pt" cx="1122.7" cy="579.5" r="2.4"/><circle class="pt" cx="1122.7" cy="653.3" r="2.4"/>
</g>
<g id="buckling-bias-slider">
<rect class="pl" x="1142" y="662" width="167" height="16.5" rx="3"/>
<rect class="pd" x="1142" y="662" width="64" height="16.5" rx="3"/>
<text class="lb lc" x="1174" y="673.3">Buckling_Bias</text>
<line class="trl" x1="1213" y1="670.3" x2="1301" y2="670.3"/><line class="trk" x1="1213" y1="670.3" x2="1301" y2="670.3"/>
<text class="lb" x="1263" y="673.3">0.8</text>
<circle class="mk" cx="1283" cy="670.3" r="2.8"/>
<circle class="pt" cx="1309" cy="670.3" r="2.4"/>
</g>
<g id="joint-bias-slider">
<rect class="pl" x="1157.4" y="679" width="151.6" height="16.4" rx="3"/>
<rect class="pd" x="1157.4" y="679" width="48.6" height="16.4" rx="3"/>
<text class="lb lc" x="1181.7" y="690.2">Joint Bias</text>
<line class="trl" x1="1213" y1="687.2" x2="1301" y2="687.2"/><line class="trk" x1="1213" y1="687.2" x2="1301" y2="687.2"/>
<circle class="mk" cx="1231.8" cy="687.2" r="2.8"/>
<text class="lb" x="1237.5" y="690.2">0.04</text>
<circle class="pt" cx="1309" cy="687.2" r="2.4"/>
</g>
<g id="python">
<rect class="cb" x="1326.4" y="610.6" width="109.1" height="86.4" rx="4"/>
<rect class="bar" x="1391.4" y="613.6" width="22.6" height="80.4" rx="3"/>
<text class="vt" transform="translate(1402.7 653.8) rotate(-90)" textLength="39" lengthAdjust="spacingAndGlyphs">Python</text>
<text class="lb lr" x="1387" y="622.3">tr_line</text><text class="lb lr" x="1387" y="639">fdl_len</text><text class="lb lr" x="1387" y="656.3">force</text><text class="lb lr" x="1387" y="673">buckling_bias</text><text class="lb lr" x="1387" y="690">joint_bias</text>
<text class="lb" x="1418" y="656.3">vol</text>
<circle class="pt" cx="1326.4" cy="619.3" r="2.4"/><circle class="pt" cx="1326.4" cy="636" r="2.4"/><circle class="pt" cx="1326.4" cy="653.3" r="2.4"/><circle class="pt" cx="1326.4" cy="670" r="2.4"/><circle class="pt" cx="1326.4" cy="687" r="2.4"/>
<circle class="pt" cx="1435.5" cy="653.3" r="2.4"/>
</g>
<g id="truss-volume">
<rect class="pd" x="1447" y="645.5" width="75.8" height="16.5" rx="3"/>
<text class="lb lc" x="1485" y="656.8" font-size="8.2">TRUSS VOLUME</text>
<circle class="pt" cx="1447" cy="653.8" r="2.4"/><circle class="pt" cx="1522.8" cy="653.8" r="2.4"/>
</g>
</g>
</svg>
